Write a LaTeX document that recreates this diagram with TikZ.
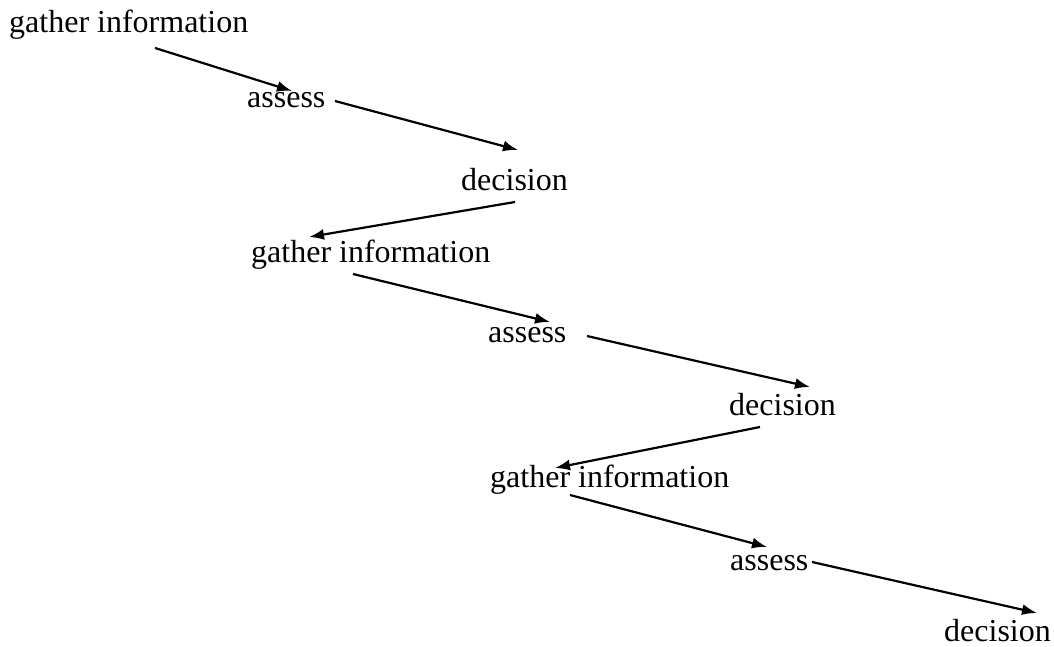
\documentclass[tikz,border=0pt]{standalone}
\usepackage{fontspec}
\setmainfont{Liberation Serif}
\usetikzlibrary{calc,arrows.meta}
\begin{document}
\begin{tikzpicture}[x=1pt,y=-1pt,
  lbl/.style={anchor=base west,inner sep=0pt,font=\fontsize{32}{38}\selectfont},
  arr/.style={-{Latex[length=15pt,width=11pt]},line width=2.2pt}]
\useasboundingbox (0,0) rectangle (1054,647);
\node[lbl] (g1) at (9,33) {gather information};
\node[lbl] (a1) at (247,108) {assess};
\node[lbl] (d1) at (461,190) {decision};
\node[lbl] (g2) at (251,262) {gather information};
\node[lbl] (a2) at (488,342) {assess};
\node[lbl] (d2) at (729,415) {decision};
\node[lbl] (g3) at (490,487) {gather information};
\node[lbl] (a3) at (730,570) {assess};
\node[lbl] (d3) at (944,641) {decision};
\draw[arr] ($(g1.base west)+(146,15)$) -- ($(a1.base west)+(45,-17)$);
\draw[arr] ($(a1.base west)+(88,-7)$) -- ($(d1.base west)+(57,-40)$);
\draw[arr] ($(d1.base west)+(54,12)$) -- ($(g2.base west)+(58,-25)$);
\draw[arr] ($(g2.base west)+(102,12)$) -- ($(a2.base west)+(62,-20)$);
\draw[arr] ($(a2.base west)+(99,-6)$) -- ($(d2.base west)+(81,-28)$);
\draw[arr] ($(d2.base west)+(31,12)$) -- ($(g3.base west)+(65,-19)$);
\draw[arr] ($(g3.base west)+(80,8)$) -- ($(a3.base west)+(37,-23)$);
\draw[arr] ($(a3.base west)+(82,-8)$) -- ($(d3.base west)+(93,-28)$);
\end{tikzpicture}
\end{document}
